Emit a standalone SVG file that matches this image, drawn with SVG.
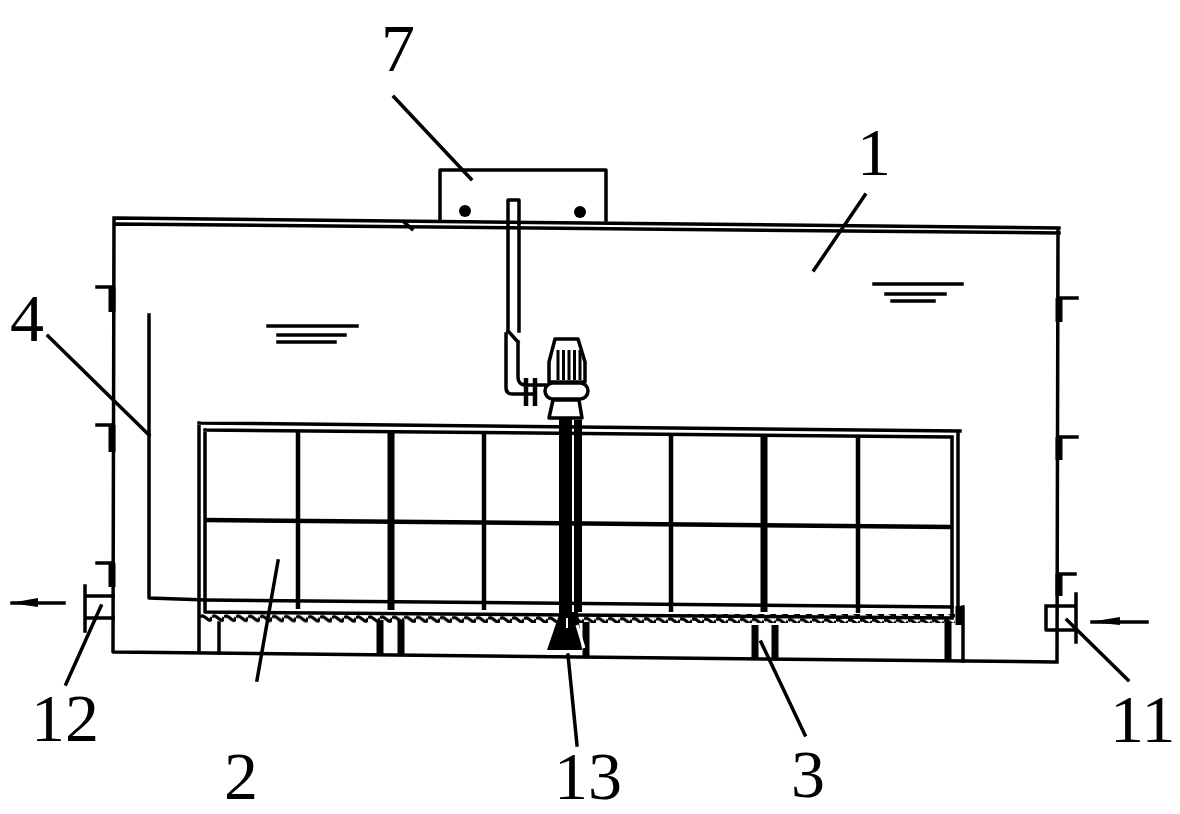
<svg xmlns="http://www.w3.org/2000/svg" width="1180" height="814" viewBox="0 0 1180 814">
<style>
.l{fill:none;stroke:#000;stroke-width:3.5;stroke-linecap:square;stroke-linejoin:round}
.t{fill:none;stroke:#000;stroke-width:3}
.b4{fill:none;stroke:#000;stroke-width:4.5}
.b6{fill:none;stroke:#000;stroke-width:7}
.f{fill:#000}
text{font-family:"Liberation Serif","Times New Roman",serif;font-size:68px;fill:#000}
</style>
<defs>
<pattern id="wave" width="12" height="9" patternUnits="userSpaceOnUse" x="200" y="614" patternTransform="rotate(0.35 205 618)">
<path d="M0 3 Q2 1 4 2.5 L9 6 Q11 7 12 3" fill="none" stroke="#000" stroke-width="3.2"/>
</pattern>
</defs>
<rect width="1180" height="814" fill="#fff"/>
<g id="tank">
<path class="l" d="M116 218 L1059 228 M117 224 L1059 233 M114 218 L113 652 L1056 662 M1058 228 L1057 662"/>
<path class="l" d="M97 287 L113 287 M97 425 L113 425 M97 563 L113 563 M1059 298 L1077 298 M1059 437 L1077 437 M1059 574 L1075 574"/>
<path class="b6" d="M112 287 V312 M112 425 V452 M112 563 V587 M1059 298 V322 M1059 437 V460 M1059 574 V596"/>
<path class="l" d="M404 222 L412 229"/>
</g>
<g id="water-levels">
<path class="l" d="M268 326 H357 M278 335 H345 M278 342 H335 M874 284 H962 M886 294 H945 M892 301 H934"/>
</g>
<g id="box-7">
<path class="l" d="M440 220 V170 H606 V220"/>
<circle class="f" cx="465" cy="211" r="6"/>
<circle class="f" cx="580" cy="212" r="6"/>
</g>
<g id="pipe-4">
<path class="l" d="M149 315 L149 598 L205 600"/>
</g>
<g id="frame-2">
<path class="l" d="M199 423 L960 431 M199 423 V650 M205 430 L952 437 M205 430 V612 L952 618 M952 437 V618 M958 431 V616"/>
<path class="l" d="M205 600 L952 607"/>
<path class="b4" d="M205 520 L952 527"/>
<path class="b4" d="M298 431 V609 M484 433 V610 M671 436 V612 M858 437 V613"/>
<path class="b6" d="M391 431 V610 M764 436 V612"/>
</g>
<g id="diffuser-3">
<rect x="200" y="614" width="755" height="9" fill="url(#wave)"/>
<path class="l" d="M219 623 V653"/>
<path class="b6" d="M380 620 V655 M401 620 V655 M586 622 V656 M755 625 V659 M775 625 V659 M948 622 V661"/>
<path class="l" d="M963 607 V661"/>
<path class="b6" d="M959 606 V625"/>
</g>
<g id="pump">
<path class="l" d="M508 330 V200 H519 V331 M508 331 L518 342 M506 334 V388 Q506 394 513 394 L532 394 M518 342 V377 Q518 385 526 385 H545"/>
<path class="b4" d="M526 378 V406 M535 378 V406"/>
<path class="l" d="M555 339 H578 L585 362 V382 H549 V362 Z"/>
<path class="t" d="M558 350 V380 M563.500 350 V380 M569 350 V380 M574.500 350 V380 M580 350 V380"/>
<rect x="545" y="383" width="43" height="16" rx="8" fill="#fff" stroke="#000" stroke-width="3.500"/>
<path class="l" d="M553 400 H579 L582 418 H549 Z"/>
<rect x="559" y="418" width="13" height="196" class="f"/>
<rect x="574" y="420" width="8" height="192" class="f"/>
<path class="f" d="M560 612 H578 L582 650 H547 Z"/>
<path d="M577 625 L584 648" stroke="#fff" stroke-width="3"/>
<rect x="566" y="618" width="2" height="10" fill="#fff"/>
</g>
<g id="outlet-12">
<path class="l" d="M85 586 V631 M85 596 H113 M85 618 H113"/>
<path class="l" d="M12 603 H64"/>
<path class="f" d="M10 603 L38 598 V607 Z"/>
</g>
<g id="inlet-11">
<path class="l" d="M1046 606 H1075 M1046 606 V630 H1075 M1076 594 V642"/>
<path class="l" d="M1092 622 H1147"/>
<path class="f" d="M1090 622 L1120 617 V625 Z"/>
</g>
<g id="leaders">
<path class="l" d="M394 97 L471 179 M865 195 L814 270 M48 336 L149 435 M66 684 L101 606 M278 561 L257 680 M568 655 L577 745 M761 642 L805 735 M1067 620 L1128 680"/>
</g>
<g id="labels">
<text x="381" y="71">7</text>
<text x="857" y="175">1</text>
<text x="10" y="341">4</text>
<text x="31" y="741">12</text>
<text x="224" y="799">2</text>
<text x="554" y="799">13</text>
<text x="791" y="797">3</text>
<text x="1110" y="742">11</text>
</g>
</svg>
